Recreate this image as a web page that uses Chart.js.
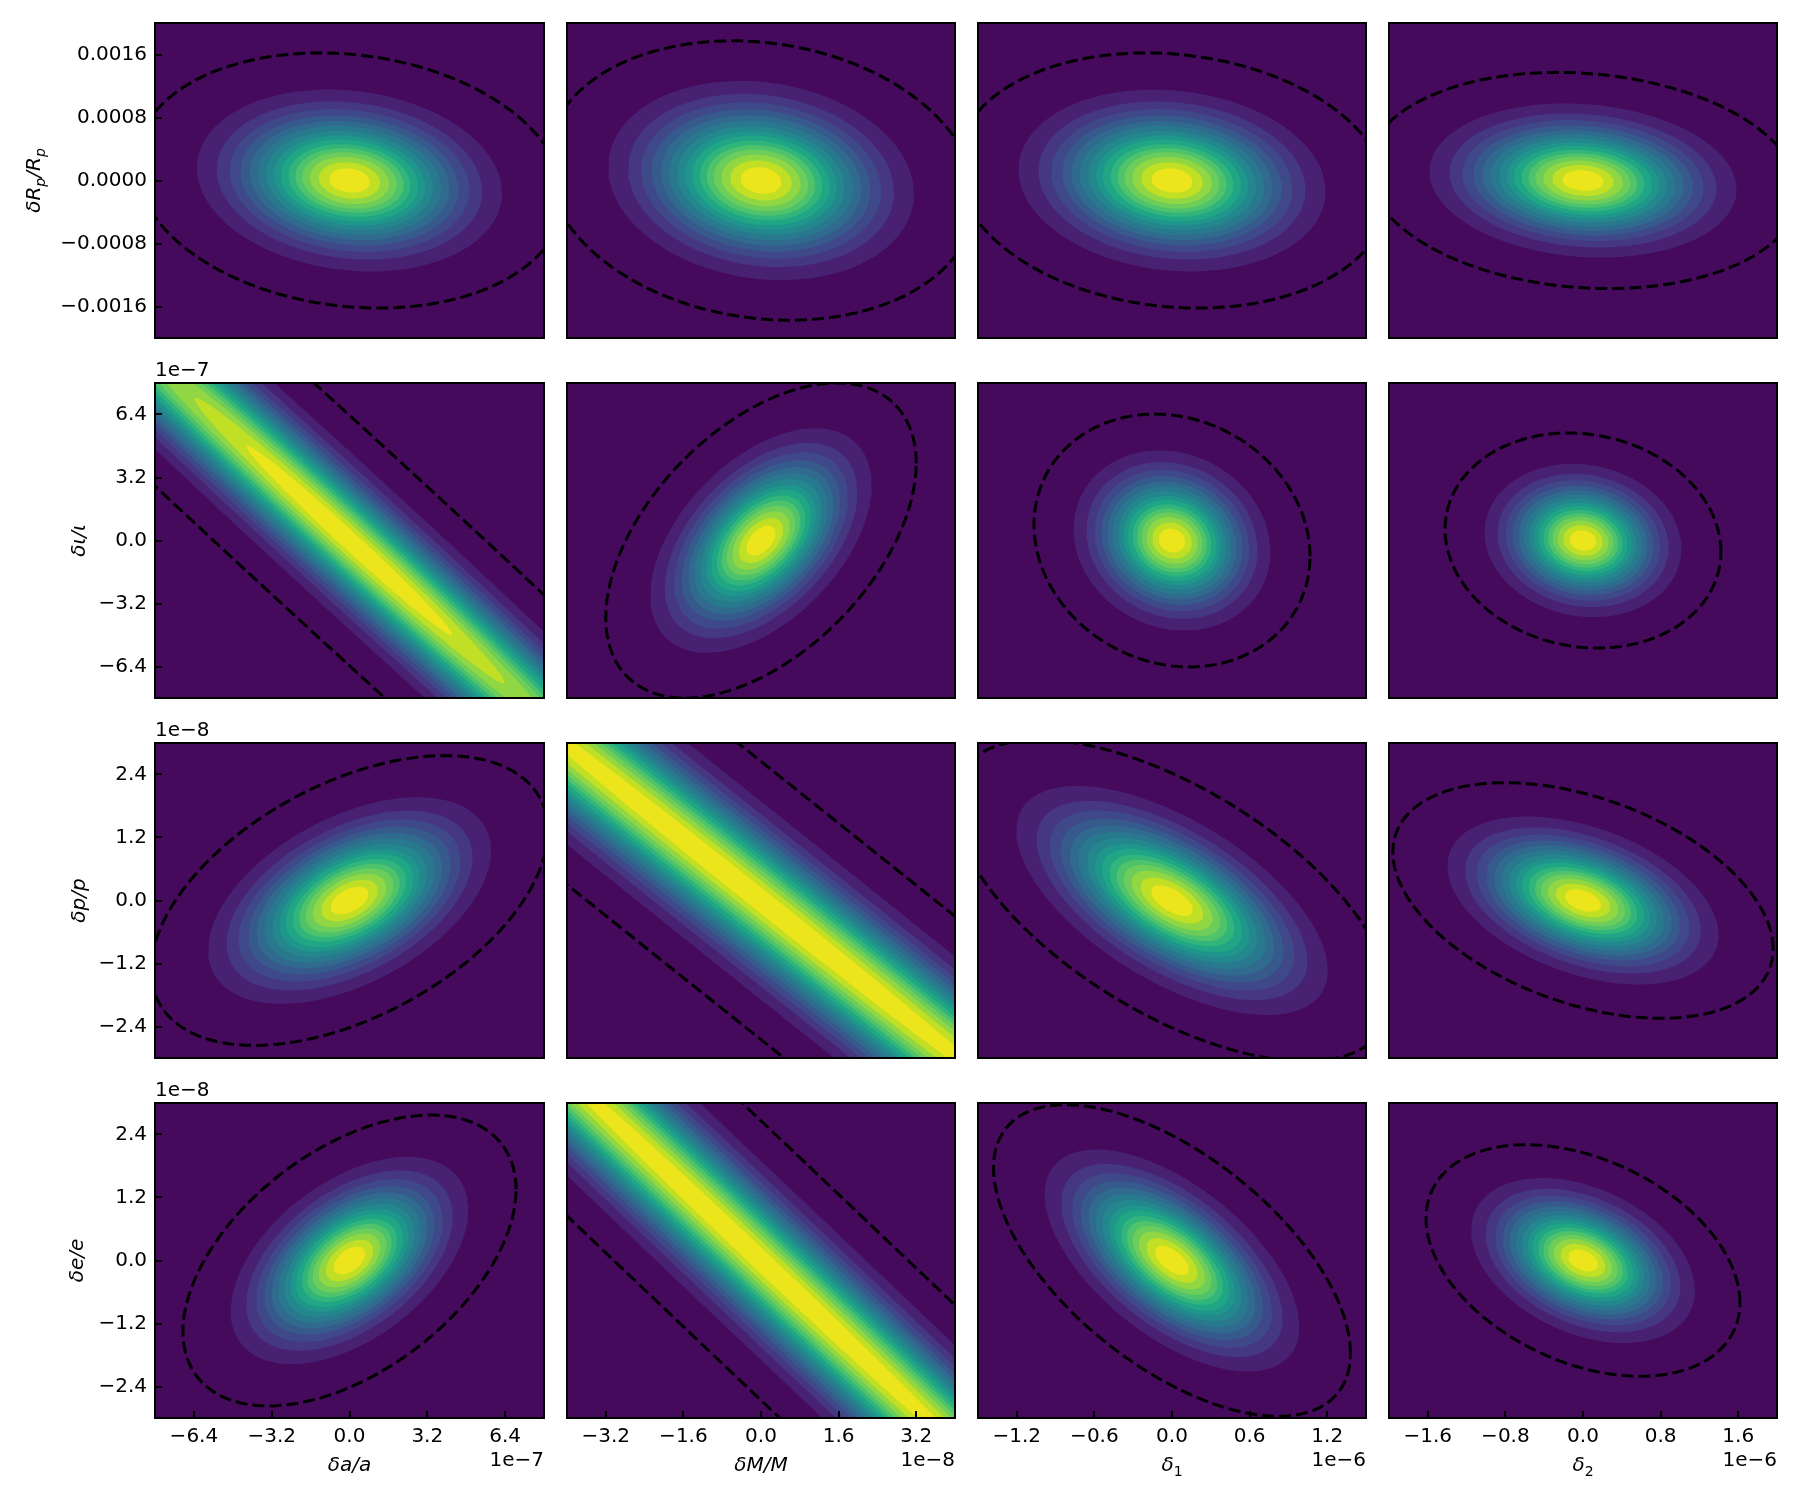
<!DOCTYPE html>
<html>
<head>
<meta charset="utf-8">
<title>Error ellipses</title>
<script src="https://cdn.jsdelivr.net/npm/chart.js@4"></script>
<style>
  html, body { margin: 0; background: #fff; }
  canvas { position: absolute; }
</style>
</head>
<body>
<script>
// axis ticks, in the units printed on the axis (offset text gives the power)
const xTicks = [
  [-6.4, -3.2, 0, 3.2, 6.4],
  [-3.2, -1.6, 0, 1.6, 3.2],
  [-1.2, -0.6, 0, 0.6, 1.2],
  [-1.6, -0.8, 0, 0.8, 1.6],
];
const yTicks = [
  [-0.0016, -0.0008, 0, 0.0008, 0.0016],
  [-6.4, -3.2, 0, 3.2, 6.4],
  [-2.4, -1.2, 0, 1.2, 2.4],
  [-2.4, -1.2, 0, 1.2, 2.4],
];
const yTickDigits = [4, 1, 1, 1];
const xLimits = [8, 4, 1.5, 2];
const yLimits = [0.002, 8, 3, 3];
// "_" marks the next letter as a subscript
const xNames = ["δa/a", "δM/M", "δ_1", "δ_2"];
const yNames = ["δR_p/R_p", "δι/ι", "δp/p", "δe/e"];
const xPowers = ["1e−7", "1e−8", "1e−6", "1e−6"];
const yPowers = ["", "1e−7", "1e−8", "1e−8"];

// dashed contour: half width, half height, correlation
// (row by row). The contour outlines are traced from these three numbers.
const contourHalfX = [
  [8.8, 4.42, 1.665, 2.22],
  [44.6, 3.2, 1.067, 1.422],
  [8.16, 56, 1.689, 1.96],
  [6.85, 48, 1.38, 1.618],
];
const contourHalfY = [
  [0.00162, 0.001774, 0.00162, 0.001372],
  [50.7, 8, 6.42, 5.46],
  [2.76, 41.3, 3.06, 2.244],
  [2.77, 42.1, 2.967, 2.205],
];
const contourRho = [
  [-0.137, -0.133, -0.12, -0.117],
  [-0.9921, 0.49, -0.125, -0.105],
  [0.48, -0.99794, -0.61, -0.41],
  [0.488, -0.998, -0.595, -0.364],
];
// size of each filled band relative to the dashed contour, outermost first
const bandSizes = [0.713, 0.62, 0.56, 0.51, 0.467, 0.428, 0.389, 0.353, 0.321, 0.285, 0.253, 0.221, 0.185, 0.143, 0.095];
const bandColors = ["#482173", "#453781", "#3f4889", "#375a8c", "#306a8e", "#29798e", "#24878e", "#1f968b", "#21a685", "#31b57b", "#4ec36b", "#6ccd5a", "#90d743", "#c0df25", "#ece51b"];
const backColor = "#450a5c";

const panelLefts = [155, 567, 978, 1389];
const panelTops = [23, 383, 743, 1103];
const panelWidths = [389, 388, 388, 388];
const panelH = 315;
const yTitleX = [33, 78, 78, 76];
const fontFamily = "'DejaVu Sans'";

Chart.defaults.font.family = fontFamily;
Chart.defaults.font.size = 20;
Chart.defaults.color = "#000";

function outline(r, c, size) {
  const sx = contourHalfX[r][c] * size;
  const sy = contourHalfY[r][c] * size;
  const rho = contourRho[r][c];
  const pts = [];
  for (let i = 0; i <= 180; i++) {
    const a = (i * Math.PI) / 90;
    pts.push({
      x: sx * Math.cos(a),
      y: sy * (rho * Math.cos(a) + Math.sqrt(1 - rho * rho) * Math.sin(a)),
    });
  }
  return pts;
}

// writes a name such as "δR_p/R_p", centred on the origin of ctx
function writeName(ctx, name) {
  const parts = [];
  for (let i = 0; i < name.length; i++) {
    if (name[i] === "_") {
      i++;
      const digit = /[0-9]/.test(name[i]);
      parts.push({ text: name[i], font: (digit ? "" : "italic ") + "14px " + fontFamily, drop: 5 });
    } else {
      parts.push({ text: name[i], font: "italic 20px " + fontFamily, drop: 0 });
    }
  }
  let width = 0;
  parts.forEach((p) => {
    ctx.font = p.font;
    p.width = ctx.measureText(p.text).width;
    width += p.width;
  });
  let x = -width / 2;
  ctx.textAlign = "left";
  ctx.textBaseline = "alphabetic";
  parts.forEach((p) => {
    ctx.font = p.font;
    ctx.fillText(p.text, x, 7 + p.drop);
    x += p.width;
  });
}

const panelBack = {
  id: "panelBack",
  beforeDraw(chart) {
    const { ctx, chartArea: a } = chart;
    ctx.fillStyle = backColor;
    ctx.fillRect(a.left, a.top, a.width, a.height);
  },
};

const panelFrame = {
  id: "panelFrame",
  afterDraw(chart, args, opts) {
    const { ctx, chartArea: a } = chart;
    ctx.save();
    ctx.strokeStyle = "#000";
    ctx.lineWidth = 2;
    ctx.strokeRect(a.left, a.top, a.width, a.height);
    ctx.fillStyle = "#000";
    ctx.font = "20px " + fontFamily;
    ctx.textBaseline = "middle";
    if (opts.top) {
      ctx.textAlign = "left";
      ctx.fillText(opts.top, a.left, a.top - 12);
    }
    if (opts.bottom) {
      ctx.textAlign = "right";
      ctx.fillText(opts.bottom, a.right, a.bottom + 43);
    }
    if (opts.xName) {
      ctx.save();
      ctx.translate((a.left + a.right) / 2, a.bottom + 46);
      writeName(ctx, opts.xName);
      ctx.restore();
    }
    if (opts.yName) {
      ctx.save();
      ctx.translate(opts.yNameX, (a.top + a.bottom) / 2);
      ctx.rotate(-Math.PI / 2);
      writeName(ctx, opts.yName);
      ctx.restore();
    }
    ctx.restore();
  },
};

function makeAxis(ticks, limit, digits, shown, size, labelGap) {
  return {
    type: "linear",
    min: -limit,
    max: limit,
    afterBuildTicks: (s) => {
      s.ticks = ticks.map((v) => ({ value: v }));
    },
    afterFit: (s) => {
      if (s.isHorizontal()) s.height = size;
      else s.width = size;
    },
    border: { display: false },
    grid: {
      display: shown,
      drawOnChartArea: false,
      drawTicks: true,
      tickLength: -7,
      color: "#000",
      lineWidth: 2,
      z: 1,
    },
    ticks: {
      display: shown,
      autoSkip: false,
      maxRotation: 0,
      padding: labelGap,
      callback: (v) => v.toFixed(digits).replace("-", "−"),
    },
  };
}

function makePanel(r, c) {
  const left = c === 0 ? 155 : 10;
  const bottom = r === 3 ? 80 : 30;
  const top = 30;
  const right = 20;

  const canvas = document.createElement("canvas");
  canvas.width = left + panelWidths[c] + right;
  canvas.height = top + panelH + bottom;
  canvas.style.left = panelLefts[c] - left + "px";
  canvas.style.top = panelTops[r] - top + "px";
  document.body.append(canvas);

  const datasets = [
    {
      data: outline(r, c, 1),
      showLine: true,
      borderColor: "#000",
      borderWidth: 3,
      borderDash: [12, 5],
      pointRadius: 0,
      order: 0,
    },
  ];
  bandSizes.forEach((size, i) => {
    datasets.push({
      data: outline(r, c, size),
      showLine: true,
      fill: "shape",
      backgroundColor: bandColors[i],
      borderWidth: 0,
      pointRadius: 0,
      order: 100 - i,
    });
  });

  return new Chart(canvas, {
    type: "scatter",
    data: { datasets },
    options: {
      responsive: false,
      animation: false,
      events: [],
      layout: { padding: { top, right, left: 0, bottom: 0 } },
      scales: {
        x: makeAxis(xTicks[c], xLimits[c], 1, r === 3, bottom, 14),
        y: makeAxis(yTicks[r], yLimits[r], yTickDigits[r], c === 0, left, 15),
      },
      plugins: {
        legend: { display: false },
        tooltip: { enabled: false },
        panelFrame: {
          top: c === 0 ? yPowers[r] : "",
          bottom: r === 3 ? xPowers[c] : "",
          xName: r === 3 ? xNames[c] : "",
          yName: c === 0 ? yNames[r] : "",
          yNameX: yTitleX[r],
        },
      },
    },
    plugins: [panelBack, panelFrame],
  });
}

for (let r = 0; r < 4; r++) {
  for (let c = 0; c < 4; c++) {
    makePanel(r, c);
  }
}
</script>
</body>
</html>
